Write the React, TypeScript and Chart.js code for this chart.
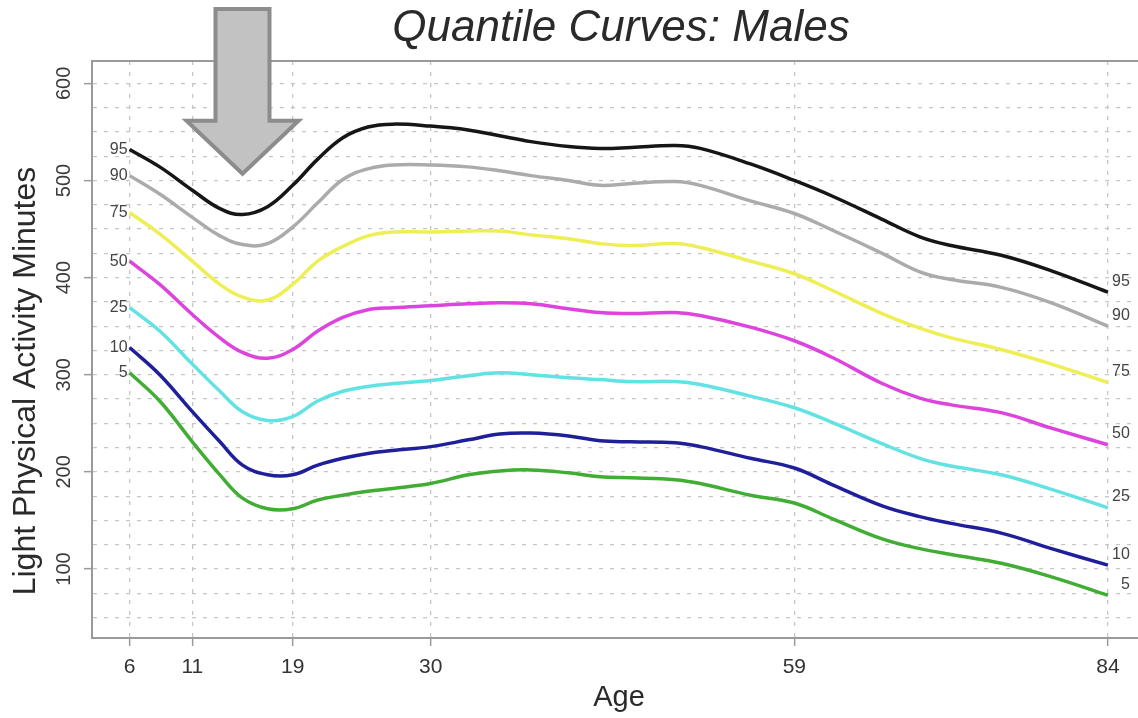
import React, { useEffect, useRef } from "react";
import { Chart, registerables } from "chart.js";

Chart.register(...registerables);

// ---- data ----
const AGES = [6, 8.4, 11, 13.2, 15, 17, 19, 21, 23, 25, 27, 30, 33, 35.5, 38, 41, 43.5, 46, 49.5, 51.5, 55.5, 59, 62, 66, 69, 71.5, 75.5, 79.5, 84];

const P95 = [532, 514, 490, 471, 465, 473, 495, 522, 544, 555, 558, 556, 552, 546, 540, 535, 533, 534, 536, 533, 517, 500, 484, 460, 442, 433, 423, 407, 385];
const P90 = [505, 486, 462, 443, 434, 435, 452, 477, 501, 512, 516, 516, 514, 510, 505, 500, 495, 497, 499, 495, 479, 466, 449, 425, 406, 398, 390, 374, 350];
const P75 = [467, 445, 417, 393, 380, 377, 393, 417, 432, 443, 447, 447, 448, 448, 444, 440, 435, 433, 435, 431, 417, 404, 387, 363, 348, 338, 326, 311, 292];
const P50 = [417, 393, 362, 338, 323, 317, 326, 345, 359, 367, 369, 371, 373, 374, 373, 368, 364, 363, 364, 361, 349, 335, 318, 291, 276, 269, 261, 245, 228];
const P25 = [369, 345, 311, 283, 262, 253, 257, 273, 283, 288, 291, 294, 299, 302, 300, 297, 295, 293, 293, 290, 278, 266, 251, 229, 214, 206, 197, 182, 163];
const P10 = [328, 300, 262, 231, 207, 197, 197, 207, 214, 219, 222, 226, 233, 239, 240, 237, 232, 231, 230, 226, 214, 204, 187, 165, 154, 147, 137, 121, 104];
const P05 = [302, 273, 231, 197, 173, 162, 162, 171, 176, 180, 183, 188, 197, 201, 202, 199, 195, 194, 192, 188, 176, 168, 152, 131, 121, 115, 106, 92, 73];

const PCT_LABELS = ["95", "90", "75", "50", "25", "10", "5"];
const SERIES_VALUES = [P95, P90, P75, P50, P25, P10, P05];
const SERIES_COLORS = ["#161616", "#ababab", "#eeee55", "#dd44dd", "#62e2e2", "#1f1f9c", "#42ad34"];

const AGE_TICKS = [6, 11, 19, 30, 59, 84];
const Y_LABEL_TICKS = [100, 200, 300, 400, 500, 600];
const Y_GRID_STEP = 25;

const TITLE = "Quantile Curves: Males";
const X_TITLE = "Age";
const Y_TITLE = "Light Physical Activity Minutes";

const ARROW_AGE = 15;
const ARROW_TIP_VALUE = 507;

// ---- styles ----
const FONT = "'Liberation Sans', Arial, Helvetica, sans-serif";
const AXIS_COLOR = "#9a9a9a";
const GRID_COLOR = "#c6c6c6";
const TEXT_COLOR = "#2a2a2a";

const decorPlugin = {
  id: "decor",
  afterDatasetsDraw(chart: any) {
    const { ctx, chartArea: a, scales } = chart;
    const xs = scales.x;
    const ys = scales.y;
    ctx.save();

    // top frame line
    ctx.strokeStyle = AXIS_COLOR;
    ctx.lineWidth = 2;
    ctx.beginPath();
    ctx.moveTo(a.left, a.top);
    ctx.lineTo(a.right, a.top);
    ctx.stroke();

    // curve labels
    ctx.font = `16px ${FONT}`;
    ctx.fillStyle = "#444";
    ctx.textBaseline = "middle";
    SERIES_VALUES.forEach((vals, i) => {
      const x0 = xs.getPixelForValue(AGES[0]);
      const x1 = xs.getPixelForValue(AGES[AGES.length - 1]);
      ctx.textAlign = "right";
      ctx.fillText(PCT_LABELS[i], x0 - 2, ys.getPixelForValue(vals[0]));
      ctx.fillText(PCT_LABELS[i], x1 + 22, ys.getPixelForValue(vals[vals.length - 1]) - 11);
    });

    // y tick labels (rotated)
    ctx.font = `20px ${FONT}`;
    ctx.fillStyle = "#3a3a3a";
    ctx.textAlign = "center";
    ctx.textBaseline = "middle";
    Y_LABEL_TICKS.forEach((v) => {
      ctx.save();
      ctx.translate(a.left - 28, ys.getPixelForValue(v));
      ctx.rotate(-Math.PI / 2);
      ctx.fillText(String(v), 0, 0);
      ctx.restore();
    });

    // title
    ctx.fillStyle = TEXT_COLOR;
    ctx.font = `italic 44px ${FONT}`;
    ctx.textAlign = "center";
    ctx.textBaseline = "alphabetic";
    ctx.fillText(TITLE, (a.left + a.right) / 2 + 6, 41);

    // x title
    ctx.font = `29px ${FONT}`;
    ctx.fillText(X_TITLE, (a.left + a.right) / 2 + 4, 706);

    // y title
    ctx.save();
    ctx.font = `32px ${FONT}`;
    ctx.translate(35, 381);
    ctx.rotate(-Math.PI / 2);
    ctx.textAlign = "center";
    ctx.textBaseline = "alphabetic";
    ctx.fillText(Y_TITLE, 0, 0);
    ctx.restore();

    // arrow annotation
    const tx = xs.getPixelForValue(ARROW_AGE);
    const ty = ys.getPixelForValue(ARROW_TIP_VALUE);
    const headHalf = 56;
    const headH = 53;
    const shaftHalf = 27;
    const topY = 9;
    ctx.beginPath();
    ctx.moveTo(tx - shaftHalf, topY);
    ctx.lineTo(tx - shaftHalf, ty - headH);
    ctx.lineTo(tx - headHalf, ty - headH);
    ctx.lineTo(tx, ty);
    ctx.lineTo(tx + headHalf, ty - headH);
    ctx.lineTo(tx + shaftHalf, ty - headH);
    ctx.lineTo(tx + shaftHalf, topY);
    ctx.closePath();
    ctx.fillStyle = "#c2c2c2";
    ctx.fill();
    ctx.lineWidth = 4;
    ctx.lineJoin = "miter";
    ctx.strokeStyle = "#8c8c8c";
    ctx.stroke();

    ctx.restore();
  },
};

export default function App() {
  const ref = useRef<HTMLCanvasElement | null>(null);

  useEffect(() => {
    if (!ref.current) return;
    const datasets = SERIES_VALUES.map((vals, i) => ({
      label: PCT_LABELS[i],
      data: AGES.map((age, j) => ({ x: age, y: vals[j] })),
      borderColor: SERIES_COLORS[i],
      backgroundColor: SERIES_COLORS[i],
      borderWidth: 3.5,
      pointRadius: 0,
      tension: 0.4,
      fill: false,
    }));

    const chart = new Chart(ref.current, {
      type: "line",
      data: { datasets },
      plugins: [decorPlugin],
      options: {
        animation: false,
        responsive: false,
        maintainAspectRatio: false,
        layout: { padding: { top: 61, left: 0, right: 0, bottom: 0 } },
        plugins: {
          legend: { display: false },
          title: { display: false },
          tooltip: { enabled: false },
        },
        scales: {
          x: {
            type: "linear",
            min: 3,
            max: 86.4,
            afterBuildTicks: (s: any) => {
              s.ticks = AGE_TICKS.map((v) => ({ value: v }));
            },
            afterFit: (s: any) => {
              s.height = 80;
            },
            ticks: {
              autoSkip: false,
              maxRotation: 0,
              padding: 9,
              color: "#333",
              font: { size: 21, family: FONT },
              callback: (v: any) => String(v),
            },
            grid: {
              color: GRID_COLOR,
              lineWidth: 1.3,
              tickLength: 8,
              tickColor: AXIS_COLOR,
              tickWidth: 1.5,
            },
            border: { color: AXIS_COLOR, width: 2, dash: [4, 7] },
          },
          y: {
            type: "linear",
            min: 29,
            max: 623,
            afterBuildTicks: (s: any) => {
              const t: any[] = [];
              for (let v = Math.ceil(s.min / Y_GRID_STEP) * Y_GRID_STEP; v <= s.max; v += Y_GRID_STEP) t.push({ value: v });
              s.ticks = t;
            },
            afterFit: (s: any) => {
              s.width = 92;
            },
            ticks: { display: false },
            grid: {
              color: GRID_COLOR,
              lineWidth: 1.3,
              tickLength: 8,
              tickWidth: 1.5,
              tickColor: (c: any) => (c.tick && c.tick.value % 100 === 0 ? AXIS_COLOR : "rgba(0,0,0,0)"),
            },
            border: { color: AXIS_COLOR, width: 2, dash: [4, 7] },
          },
        },
      },
    });
    return () => chart.destroy();
  }, []);

  return (
    <div style={{ position: "fixed", left: 0, top: 0, width: 1138, height: 718, background: "#fff" }}>
      <canvas ref={ref} width={1138} height={718} style={{ width: 1138, height: 718, display: "block" }} />
    </div>
  );
}
